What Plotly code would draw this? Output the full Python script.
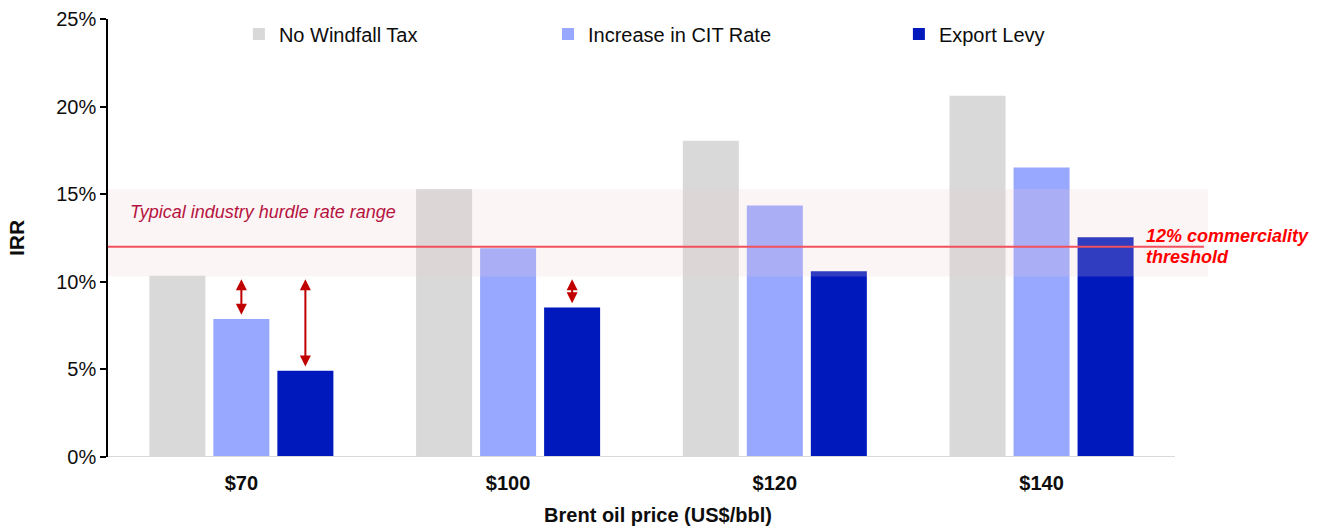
import plotly.graph_objects as go

# ---------------- data ----------------
categories = ["$70", "$100", "$120", "$140"]
no_windfall_tax = [10.35, 15.28, 18.05, 20.62]
increase_cit_rate = [7.88, 11.91, 14.35, 16.53]
export_levy = [4.93, 8.54, 10.60, 12.54]

series_names = ["No Windfall Tax", "Increase in CIT Rate", "Export Levy"]
series_values = [no_windfall_tax, increase_cit_rate, export_levy]
series_colors = ["#D9D9D9", "#99A8FF", "#0019BD"]

y_tick_values = [0, 5, 10, 15, 20, 25]
y_tick_labels = ["0%", "5%", "10%", "15%", "20%", "25%"]

commerciality_threshold = 12.0
hurdle_rate_range = [10.3, 15.3]

# arrows: (category index, series index) showing the gap to the hurdle range
arrow_marks = [(0, 1), (0, 2), (1, 2)]

# ---------------- styling ----------------
FONT = "Liberation Sans, Arial, sans-serif"
BARGAP = 0.28
BARGROUPGAP = 0.125
X_MAX = 3.624
ARROW_COLOR = "#C00000"
LINE_COLOR = "#F2505D"

x_idx = list(range(len(categories)))

fig = go.Figure()
legend_ids = ["legend", "legend2", "legend3"]
for name, vals, col, lid in zip(series_names, series_values, series_colors, legend_ids):
    fig.add_trace(go.Bar(
        x=x_idx, y=vals, name=name, marker=dict(color=col, line=dict(width=0)),
        legend=lid, hoverinfo="skip",
    ))

# hurdle band (drawn over bars, semi-transparent)
fig.add_shape(type="rect", xref="x", yref="y", x0=-0.5, x1=X_MAX,
              y0=hurdle_rate_range[0], y1=hurdle_rate_range[1],
              fillcolor="rgba(240,205,205,0.2)", line=dict(width=0), layer="above")
# baseline
fig.add_shape(type="line", xref="x", yref="y", x0=-0.5, x1=len(categories) - 0.5,
              y0=0, y1=0, line=dict(color="#D9D9D9", width=2), layer="above")
# threshold line
fig.add_shape(type="line", xref="x", yref="y", x0=-0.5, x1=X_MAX - 0.015,
              y0=commerciality_threshold, y1=commerciality_threshold,
              line=dict(color=LINE_COLOR, width=2), layer="above")

# arrows
slot = (1 - BARGAP) / len(series_names)
for ci, si in arrow_marks:
    xc = ci + (si - (len(series_names) - 1) / 2) * slot
    top = hurdle_rate_range[0] - 0.15
    bottom = series_values[si][ci] + 0.15
    fig.add_annotation(x=xc, y=top, ax=xc, ay=bottom, xref="x", yref="y",
                       axref="x", ayref="y", text="", showarrow=True,
                       arrowhead=2, arrowside="end+start", arrowsize=1.1,
                       arrowwidth=2, arrowcolor=ARROW_COLOR, standoff=0, startstandoff=0)

fig.add_annotation(x=-0.425, y=14.0, xref="x", yref="y", text="<i>Typical industry hurdle rate range</i>",
                   showarrow=False, xanchor="left", yanchor="middle",
                   font=dict(family=FONT, size=18, color="#B5123E"))
fig.add_annotation(x=3.384, y=commerciality_threshold, xref="x", yref="y",
                   text="<b><i>12% commerciality</i></b>", showarrow=False,
                   xanchor="left", yanchor="middle", yshift=11,
                   font=dict(family=FONT, size=18, color="#FF0000"))
fig.add_annotation(x=3.384, y=commerciality_threshold, xref="x", yref="y",
                   text="<b><i>threshold</i></b>", showarrow=False,
                   xanchor="left", yanchor="middle", yshift=-10,
                   font=dict(family=FONT, size=18, color="#FF0000"))

leg_common = dict(orientation="h", yanchor="middle", xanchor="left", y=0.966,
                  bgcolor="rgba(0,0,0,0)", font=dict(family=FONT, size=20, color="#0D0D0D"))
fig.update_layout(
    barmode="group", bargap=BARGAP, bargroupgap=BARGROUPGAP,
    width=1328, height=529,
    margin=dict(l=108, r=120, t=19, b=72, autoexpand=False),
    paper_bgcolor="white", plot_bgcolor="white",
    font=dict(family=FONT, size=20, color="#0D0D0D"),
    showlegend=True,
    legend=dict(x=0.119, **leg_common),
    legend2=dict(x=0.400, **leg_common),
    legend3=dict(x=0.719, **leg_common),
    xaxis=dict(range=[-0.5, X_MAX], tickvals=x_idx, ticktext=[f"<b>{c}</b>" for c in categories],
               showline=False, showgrid=False, zeroline=False, ticks="",
               ticklabelstandoff=12, tickfont=dict(size=20, family=FONT, color="#0D0D0D"),
               title=dict(text="<b>Brent oil price (US$/bbl)</b>", standoff=14,
                          font=dict(size=20, family=FONT, color="#0D0D0D")),
               automargin=False),
    yaxis=dict(range=[0, 25], tickvals=y_tick_values, ticktext=y_tick_labels,
               showline=True, linecolor="black", linewidth=1.5, ticks="outside",
               ticklen=6, tickwidth=1.5, tickcolor="black", showgrid=False, zeroline=False,
               tickfont=dict(size=20, family=FONT, color="#0D0D0D"),
               title=dict(text="<b>IRR</b>", standoff=26,
                          font=dict(size=21, family=FONT, color="#0D0D0D")),
               automargin=False),
)

fig.write_html("out.html")
